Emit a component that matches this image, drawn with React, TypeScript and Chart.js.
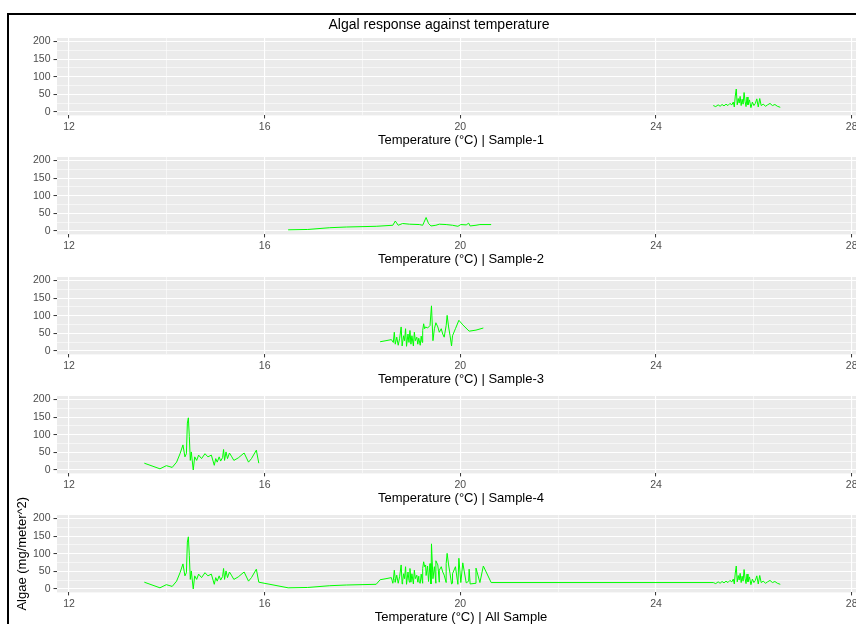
import React, { useEffect, useRef } from "react";
import { Chart, registerables } from "chart.js";

Chart.register(...registerables);

// Temperature (°C) and algae (mg/meter^2) readings per sample
const sample1Temp = [25.17, 25.22, 25.27, 25.31, 25.35, 25.39, 25.43, 25.47, 25.51, 25.55, 25.58, 25.6, 25.62, 25.64, 25.66, 25.68, 25.7, 25.72, 25.74, 25.76, 25.78, 25.8, 25.82, 25.84, 25.86, 25.88, 25.91, 25.94, 25.97, 26.0, 26.03, 26.06, 26.09, 26.12, 26.15, 26.19, 26.24, 26.28, 26.33, 26.38, 26.43, 26.48, 26.54];
const sample1Algae = [18, 15, 20, 16, 21, 17, 22, 18, 24, 20, 28, 14, 45, 65, 20, 38, 25, 44, 18, 36, 22, 55, 30, 15, 42, 20, 34, 12, 28, 18, 24, 37, 14, 38, 18, 22, 16, 20, 24, 18, 21, 16, 13];

const sample2Temp = [16.48, 16.88, 17.33, 17.67, 18.28, 18.62, 18.67, 18.73, 18.82, 18.96, 19.16, 19.23, 19.3, 19.35, 19.4, 19.5, 19.57, 19.71, 19.84, 19.95, 20.01, 20.12, 20.17, 20.2, 20.32, 20.4, 20.63];
const sample2Algae = [3, 4, 9, 11, 13, 16, 28, 16, 21, 19, 18, 16, 38, 21, 14, 16, 19, 18, 16, 13, 18, 17, 22, 14, 16, 18, 18];

const sample3Temp = [18.36, 18.48, 18.59, 18.63, 18.65, 18.67, 18.7, 18.73, 18.76, 18.79, 18.81, 18.84, 18.86, 18.88, 18.9, 18.93, 18.95, 18.97, 18.99, 19.01, 19.04, 19.06, 19.08, 19.11, 19.13, 19.15, 19.18, 19.2, 19.22, 19.23, 19.25, 19.27, 19.29, 19.33, 19.38, 19.41, 19.44, 19.47, 19.5, 19.54, 19.57, 19.61, 19.64, 19.67, 19.71, 19.73, 19.76, 19.79, 19.82, 19.84, 19.9, 19.97, 20.05, 20.18, 20.32, 20.47];
const sample3Algae = [26, 29, 32, 24, 53, 19, 39, 16, 36, 68, 14, 43, 29, 63, 13, 48, 24, 58, 19, 43, 14, 53, 29, 39, 19, 36, 16, 42, 24, 58, 77, 63, 68, 65, 72, 128, 29, 63, 80, 68, 53, 63, 48, 39, 72, 101, 68, 43, 14, 43, 63, 87, 74, 56, 59, 65];

const sample4Temp = [13.54, 13.86, 13.99, 14.11, 14.2, 14.27, 14.33, 14.37, 14.4, 14.42, 14.44, 14.46, 14.48, 14.5, 14.54, 14.57, 14.61, 14.65, 14.71, 14.78, 14.84, 14.91, 14.97, 15.0, 15.03, 15.07, 15.1, 15.14, 15.16, 15.18, 15.21, 15.24, 15.28, 15.32, 15.37, 15.46, 15.58, 15.67, 15.73, 15.83, 15.88];
const sample4Algae = [19, 3, 12, 7, 22, 46, 71, 37, 46, 133, 148, 95, 27, 51, 0, 37, 27, 42, 32, 46, 37, 42, 13, 32, 22, 37, 25, 35, 58, 27, 51, 32, 48, 39, 27, 34, 48, 22, 32, 56, 19];

const panelNames = ["Sample-1", "Sample-2", "Sample-3", "Sample-4", "All Sample"];

// axis breaks (major labelled, minor unlabelled)
const xBreaks = [12, 14, 16, 18, 20, 22, 24, 26, 28];
const xLabels = [12, 16, 20, 24, 28];
const yBreaks = [0, 25, 50, 75, 100, 125, 150, 175, 200];
const yLabels = [0, 50, 100, 150, 200];

const X_MIN = 11.755;
const X_MAX = 29.437;
const Y_MIN = -10;
const Y_MAX = 210;

const FONT = "'Liberation Sans', Arial, Helvetica, sans-serif";
const CANVAS_W = 922;
const PAD_TOP = 22;
const CANVAS_H = 134;

type Pt = { x: number; y: number };

const toPoints = (t: number[], v: number[]): Pt[] => t.map((x, i) => ({ x, y: v[i] }));

const panelSeries: Pt[][] = [
  toPoints(sample1Temp, sample1Algae),
  toPoints(sample2Temp, sample2Algae),
  toPoints(sample3Temp, sample3Algae),
  toPoints(sample4Temp, sample4Algae),
];
// every reading pooled and ordered by temperature
const allSeries: Pt[] = panelSeries
  .flat()
  .map((p, i) => ({ p, i }))
  .sort((a, b) => a.p.x - b.p.x || a.i - b.i)
  .map((o) => o.p);

const panelBackground = {
  id: "panelBackground",
  beforeDraw(chart: any) {
    const { ctx, chartArea } = chart;
    if (!chartArea) return;
    ctx.save();
    ctx.fillStyle = "#EBEBEB";
    ctx.fillRect(chartArea.left, chartArea.top, chartArea.right - chartArea.left, chartArea.bottom - chartArea.top);
    ctx.restore();
  },
};

function Panel({ name, points, top, yTitle }: { name: string; points: Pt[]; top: number; yTitle: boolean }) {
  const ref = useRef<HTMLCanvasElement | null>(null);

  useEffect(() => {
    if (!ref.current) return;
    const chart = new Chart(ref.current, {
      type: "line",
      data: {
        datasets: [
          {
            data: points,
            borderColor: "#00FF00",
            borderWidth: 1,
            pointRadius: 0,
            tension: 0,
            fill: false,
          },
        ],
      },
      options: {
        animation: false,
        responsive: false,
        devicePixelRatio: 1,
        parsing: false,
        layout: { padding: { top: PAD_TOP, left: 0, right: 0, bottom: 0 } },
        plugins: {
          legend: { display: false },
          tooltip: { enabled: false },
          title: {
            display: true,
            position: "bottom",
            text: `Temperature (°C) | ${name}`,
            color: "#000000",
            font: { family: FONT, size: 13, weight: "normal" },
            padding: { top: 1, bottom: 2 },
          },
        },
        scales: {
          x: {
            type: "linear",
            min: X_MIN,
            max: X_MAX,
            afterBuildTicks: (s: any) => {
              s.ticks = xBreaks.map((v) => ({ value: v }));
            },
            afterFit: (s: any) => {
              s.height = 16;
            },
            border: { display: false },
            grid: {
              color: "#FFFFFF",
              lineWidth: (c: any) => (xLabels.includes(c.tick?.value) ? 1.1 : 0.55),
              tickColor: (c: any) => (xLabels.includes(c.tick?.value) ? "#333333" : "rgba(0,0,0,0)"),
              tickLength: 3,
              tickWidth: 1,
            },
            ticks: {
              autoSkip: false,
              maxRotation: 0,
              padding: 2,
              color: "#4D4D4D",
              font: { family: FONT, size: 10.5 },
              callback: (v: any) => (xLabels.includes(Number(v)) ? String(v) : ""),
            },
          },
          y: {
            type: "linear",
            min: Y_MIN,
            max: Y_MAX,
            afterBuildTicks: (s: any) => {
              s.ticks = yBreaks.map((v) => ({ value: v }));
            },
            afterFit: (s: any) => {
              s.width = 57;
            },
            border: { display: false },
            grid: {
              color: "#FFFFFF",
              lineWidth: (c: any) => (yLabels.includes(c.tick?.value) ? 1.1 : 0.55),
              tickColor: (c: any) => (yLabels.includes(c.tick?.value) ? "#333333" : "rgba(0,0,0,0)"),
              tickLength: 3.5,
              tickWidth: 1,
            },
            ticks: {
              autoSkip: false,
              padding: 3,
              color: "#4D4D4D",
              font: { family: FONT, size: 10.5 },
              callback: (v: any) => (yLabels.includes(Number(v)) ? String(v) : ""),
            },
            title: {
              display: yTitle,
              text: "Algae (mg/meter^2)",
              color: "#000000",
              font: { family: FONT, size: 13 },
              padding: { top: 15, bottom: 0 },
            },
          },
        },
      } as any,
      plugins: [panelBackground],
    });
    return () => chart.destroy();
  }, [name, points, yTitle]);

  return (
    <canvas
      ref={ref}
      width={CANVAS_W}
      height={CANVAS_H}
      style={{ position: "absolute", left: 0, top, width: CANVAS_W, height: CANVAS_H }}
    />
  );
}

export default function App() {
  const series = [...panelSeries, allSeries];
  return (
    <div
      style={{
        position: "fixed",
        left: 0,
        top: 0,
        width: 856,
        height: 624,
        overflow: "hidden",
        background: "#FFFFFF",
        fontFamily: FONT,
      }}
    >
      {series.map((pts, i) => (
        <Panel key={panelNames[i]} name={panelNames[i]} points={pts} top={38 + i * 119.25 - PAD_TOP} yTitle={i === 4} />
      ))}
      <div
        style={{
          position: "absolute",
          left: 0,
          top: 16,
          width: 878,
          textAlign: "center",
          fontSize: 14,
          lineHeight: "16px",
          color: "#000000",
        }}
      >
        Algal response against temperature
      </div>
      <div
        style={{
          position: "absolute",
          left: 7,
          top: 13,
          width: 1000,
          height: 1000,
          border: "2px solid #000000",
          boxSizing: "border-box",
          pointerEvents: "none",
        }}
      />
    </div>
  );
}
